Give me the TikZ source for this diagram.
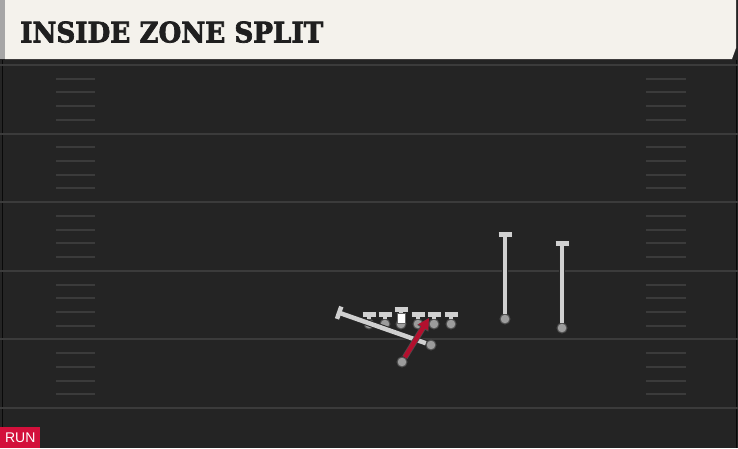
\documentclass[tikz,border=0pt]{standalone}
\usepackage{fontspec}
\usetikzlibrary{arrows.meta,positioning}
\definecolor{field}{HTML}{242424}
\definecolor{cream}{HTML}{F4F2EC}
\definecolor{yardline}{HTML}{3B3B3B}
\definecolor{routegray}{HTML}{D0D0D0}
\definecolor{dotgray}{HTML}{9C9C9C}
\definecolor{runred}{HTML}{B3102E}
\definecolor{badgered}{HTML}{D3103B}
\newfontfamily\titlefont{DejaVu Serif}[BoldFeatures={FakeBold=2.5}]
\newfontfamily\badgefont{Liberation Sans}

\tikzset{
  player/.style={circle, draw=black!70, fill=dotgray, line width=1pt, inner sep=0pt, minimum size=10pt},
  block/.style={-{Bar[width=13pt,line width=4.5pt]}, routegray, line width=4.5pt,
    preaction={draw=black!85, line width=6.5pt, -{Bar[width=15pt,line width=6.5pt]}}},
  runpath/.style={-{Triangle[length=11pt,width=11pt]}, runred, line width=4.5pt,
    preaction={draw=black!70, line width=6pt, -{Triangle[length=12pt,width=12pt]}}},
  yard/.style={yardline, line width=2pt},
  hash/.style={yardline, line width=2pt}
}

\begin{document}
\begin{tikzpicture}[x=1pt, y=-1pt]
	\useasboundingbox (0,0) rectangle (738,448);
	\fill[field] (0,0) rectangle (738,448);
	
	% field
	\draw[black!85!yardline, line width=1pt] (2,60) -- (2,448);
	\draw[black!85!yardline, line width=1pt] (736.5,60) -- (736.5,448);
	\foreach \s in {0,...,5}
		\draw[yard] (0,65+68.6*\s) -- (738,65+68.6*\s);
	\foreach \s in {0,...,4}
		\foreach \k in {1,...,4} {
			\draw[hash] (56,65+68.6*\s+13.72*\k) -- (95,65+68.6*\s+13.72*\k);
			\draw[hash] (646,65+68.6*\s+13.72*\k) -- (686,65+68.6*\s+13.72*\k);
		}
	
	% title bar
	\fill[cream] (5,0) -- (736,0) -- (736,48) -- (732,59) -- (5,59) -- cycle;
	\fill[gray!70] (0,0) rectangle (5,59);
	\node (title) at (20,43) [anchor=south west, inner sep=0pt, text=black!88]
		{\resizebox{303pt}{21pt}{\titlefont\bfseries INSIDE ZONE SPLIT}};
	
	% badge
	\node (badge) at (0,448) [anchor=south west, fill=badgered, minimum width=40pt, minimum height=21pt, inner sep=0pt, text=white]
		{\badgefont\fontsize{14}{14}\selectfont RUN};
	
	% players
	\node (lt) at (369,324) [player] {};
	\node (lg) at (385,324) [player] {};
	\node (c) at (401,324) [player] {};
	\node (rg) at (418,324) [player] {};
	\node (rt) at (434,324) [player] {};
	\node (te) at (451,324) [player] {};
	\node (hb) at (431,345) [player] {};
	\node (rb) at (402,362) [player] {};
	\node (wrl) at (505,319) [player] {};
	\node (wrr) at (562,328) [player] {};
	
	\coordinate (lt-b) at (369,312);
	\coordinate (lg-b) at (385,312);
	\coordinate (c-b) at (401,307);
	\coordinate (rg-b) at (418,312);
	\coordinate (rt-b) at (434,312);
	\coordinate (te-b) at (451,312);
	\coordinate (hb-b) at (337,312);
	\coordinate (rb-end) at (429,318);
	\coordinate (wrl-b) at (505,232);
	\coordinate (wrr-b) at (562,241);
	
	\draw[block] (lt) -- (lt-b);
	\draw[block] (lg) -- (lg-b);
	\draw[block] (c) -- (c-b);
	\draw[block] (rg) -- (rg-b);
	\draw[block] (rt) -- (rt-b);
	\draw[block] (te) -- (te-b);
	\node (c-box) at (401,318) [fill=white, draw=black!60, line width=0.5pt, minimum width=8pt, minimum height=10pt, inner sep=0pt] {};
	\draw[block] (hb) -- (hb-b);
	\draw[block] (wrl) -- (wrl-b);
	\draw[block] (wrr) -- (wrr-b);
	\draw[runpath] (rb) -- (rb-end);
	
\end{tikzpicture}
\end{document}
